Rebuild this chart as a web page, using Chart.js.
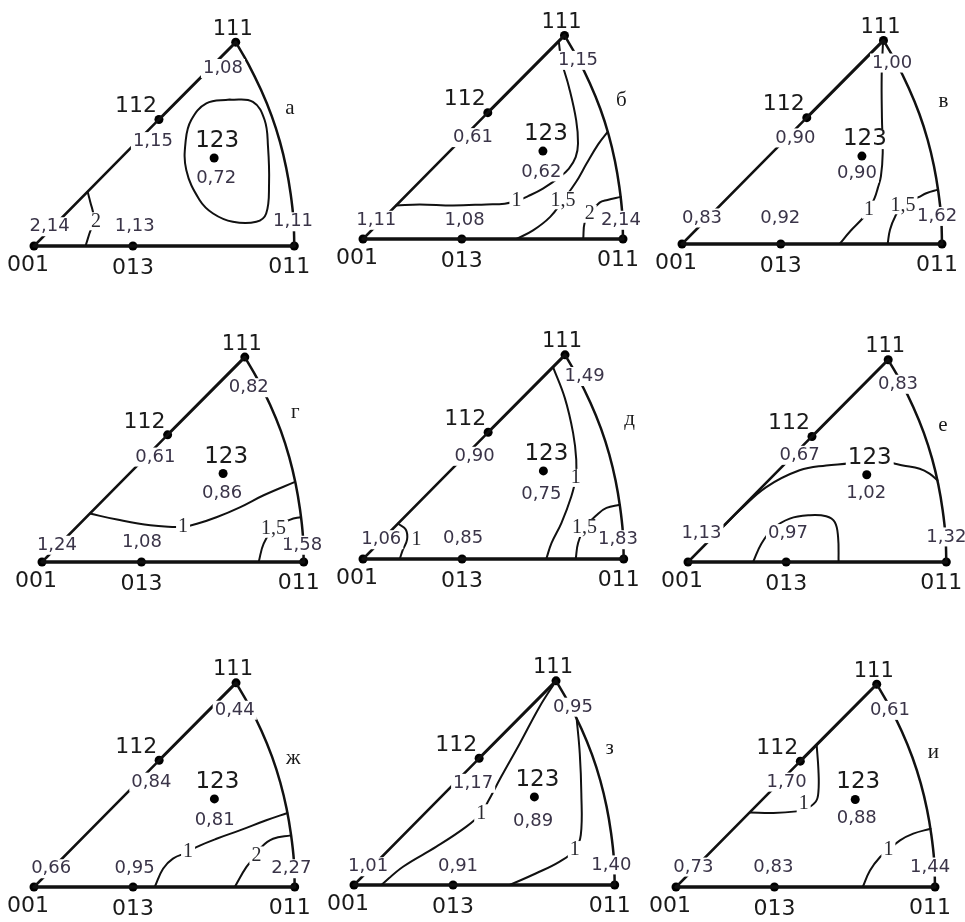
<!DOCTYPE html>
<html>
<head>
<meta charset="utf-8">
<script src="https://cdn.jsdelivr.net/npm/chart.js@4.4.1/dist/chart.umd.min.js"></script>
<style>
html, body { margin: 0; padding: 0; background: #fff; overflow: hidden; width: 965px; height: 922px; }
canvas { position: absolute; }
</style>
</head>
<body>
<script>
// poles of the standard triangle, order: 111, 112, 123, 001, 013, 011
const poleNames = ['111', '112', '123', '001', '013', '011'];
const poleX = [77.5, 48, 69.2, 0, 38, 100];
const poleY = [78.3, 48.6, 33.8, 0, 0, 0];

// 111 -> 011 arc
const arcX = [77.5, 82.3, 87.2, 91.3, 94.5, 96.9, 98.6, 99.7, 100];
const arcY = [78.3, 70, 60, 50, 40, 30, 20, 10, 0];

const letters = ['а', 'б', 'в', 'г', 'д', 'е', 'ж', 'з', 'и'];

// values at the poles (same order as poleNames)
const valsA = [1.08, 1.15, 0.72, 2.14, 1.13, 1.11];
const valsB = [1.15, 0.61, 0.62, 1.11, 1.08, 2.14];
const valsV = [1.00, 0.90, 0.90, 0.83, 0.92, 1.62];
const valsG = [0.82, 0.61, 0.86, 1.24, 1.08, 1.58];
const valsD = [1.49, 0.90, 0.75, 1.06, 0.85, 1.83];
const valsE = [0.83, 0.67, 1.02, 1.13, 0.97, 1.32];
const valsZh = [0.44, 0.84, 0.81, 0.66, 0.95, 2.27];
const valsZ = [0.95, 1.17, 0.89, 1.01, 0.91, 1.40];
const valsI = [0.61, 1.70, 0.88, 0.73, 0.83, 1.44];

// contour lines
const linesA = [
  [[75.2,56.3],[84.1,55.4],[88.6,48.4],[89.9,38.2],[90.3,24.1],[89.2,12.5],[85.4,9.3],[76.4,9.3],[68.8,12.5],[63.6,17.7],[58.5,29.2],[58.3,40.7],[60.4,48.4],[66.2,54.8],[75.2,56.3]],
  [[20.6,20.8],[21.6,17],[23,10.5],[21.2,4.5],[19.8,0]]
];
const linesB = [
  [[12.8,12.9],[21.8,13.3],[34.6,12.9],[47.4,13.3],[54.5,13.6],[59,14.6],[63.5,16.5],[69.2,19.4],[75.6,23.8],[79.2,27.1],[81.8,31.5],[82.7,36.7],[82,45.6],[79.2,58.5],[76.3,68.7],[75.3,76]],
  [[94.1,41.2],[90.5,36.5],[86,29],[82,22],[77,15],[72,8.5],[65.4,3.3],[59,0]],
  [[99.1,16.2],[94,15],[91,14],[87.5,10],[85.3,6.5],[84.7,0]]
];
const linesV = [
  [[77.3,77.6],[76.8,64.5],[76.9,48.5],[77.2,35],[76.5,26],[75.3,21.5],[74.1,17.7],[71.9,13.2],[69.6,10],[64.7,4.9],[60.6,0]],
  [[98.5,20.9],[94.2,19.6],[91,18],[85,15],[82,10.6],[80,5.5],[79.1,0]]
];
const linesG = [
  [[18.3,18.5],[28.7,16.2],[41.4,14],[51,13.4],[53.9,13.4],[59.2,14.6],[66.9,17.2],[75.8,21],[84.7,25.5],[96.7,30.6]],
  [[99,17.2],[94.9,16.2],[88.5,12.7],[84.7,7],[82.8,0]]
];
const linesD = [
  [[72.9,73.6],[77.4,61.8],[80.6,48.3],[81.8,38.1],[81.6,31.1],[79.9,24],[76.1,13.8],[72.3,6.1],[70.3,0]],
  [[13.4,13.6],[16.4,11.3],[16.9,7.4],[15.3,3.6],[14.1,0]],
  [[98.5,20.8],[93.4,19.6],[90.2,17.4],[85,11.9],[82.5,6.1],[81.6,0]]
];
const linesE = [
  [[13.5,13.6],[20,20],[30.3,29],[43.2,35.5],[53.5,37.4],[62.6,38.2],[71,40],[79.5,38.2],[83.2,37.4],[89.7,36.1],[93.5,34.2],[96.6,31.6]],
  [[25.2,0],[28.4,7.1],[32.9,12.9],[39.4,16.8],[47.1,18.1],[53.5,17.7],[56.8,15.5],[58.1,9.7],[58.3,0]]
];
const linesZh = [
  [[97.2,28.4],[89.1,25.6],[78.9,21.7],[70,18.5],[62.3,15.3],[59.1,13.4],[53.3,10.9],[49.5,7],[46.3,0]],
  [[98.6,19.8],[91.7,18.5],[87.2,15.3],[85.3,12.1],[81.5,7.7],[77,0]]
];
const linesZ = [
  [[77.5,78.3],[71.2,68.4],[63.6,54.3],[56.5,41.6],[51.4,32],[48.8,27.5],[43.1,22.4],[31.6,14.7],[18.8,7],[10.5,0]],
  [[85.4,63.9],[86.6,50.5],[87.2,35.2],[87,19.2],[84.7,13.4],[78.9,9],[69.9,4.5],[59.7,0]]
];
const linesI = [
  [[54.3,54.9],[55,45],[55,37],[54,33],[50,30],[46.6,29.2],[37.6,28.6],[28.6,28.8]],
  [[98.3,22.5],[91.6,20.6],[86.5,18],[82,14.2],[78.8,11.6],[74.9,6.4],[72.1,0]]
];

// contour level labels
const isoA = ['2'];
const isoB = ['1', '1,5', '2'];
const isoV = ['1', '1,5'];
const isoG = ['1', '1,5'];
const isoD = ['1', '1', '1,5'];
const isoE = [];
const isoZh = ['1', '2'];
const isoZ = ['1', '1'];
const isoI = ['1', '1'];

const panelVals = [valsA, valsB, valsV, valsG, valsD, valsE, valsZh, valsZ, valsI];
const panelLines = [linesA, linesB, linesV, linesG, linesD, linesE, linesZh, linesZ, linesI];
const panelIso = [isoA, isoB, isoV, isoG, isoD, isoE, isoZh, isoZ, isoI];

// where each panel sits on the page and where its texts go
const layout = [
  { org: [34.3, 246.0], s: 2.603, valueAt: [[72.6,68.2],[45.7,40.1],[70,26],[6,7.4],[38.7,7.4],[99.5,9.3]], isoAt: [[23.8,9.5]], letterAt: [98.3,53] },
  { org: [363.3, 238.7], s: 2.600, valueAt: [[82.7,68.7],[42.3,39],[68.6,25.8],[5.1,7.2],[39.1,7.2],[99.2,7.2]], isoAt: [[59,14.6],[76.9,14.9],[87.2,9.7]], letterAt: [99.4,53.3] },
  { org: [681.7, 244.3], s: 2.600, valueAt: [[80.8,69.6],[43.6,40.8],[67.3,27.3],[7.7,10],[37.8,10],[98.1,10.6]], isoAt: [[71.9,13.2],[85,14.9]], letterAt: [100.6,54.9] },
  { org: [41.7, 561.7], s: 2.617, valueAt: [[79,66.6],[43.3,40.1],[68.8,26.1],[5.7,6.4],[38.2,7.6],[99.4,6.4]], isoAt: [[53.9,13.4],[88.5,12.7]], letterAt: [96.8,57.3] },
  { org: [363.3, 559.3], s: 2.607, valueAt: [[85,70],[42.8,39.4],[68.4,24.7],[7,7.4],[38.4,8.1],[97.8,7.4]], isoAt: [[81.6,31.1],[20.5,7.4],[85,11.9]], letterAt: [102.3,53.5] },
  { org: [688.3, 561.7], s: 2.583, valueAt: [[81.3,68.8],[43.2,41.3],[69,26.5],[5.2,11],[38.7,11],[100,9.7]], isoAt: [], letterAt: [98.7,52.9] },
  { org: [34.3, 886.7], s: 2.607, valueAt: [[77,67.8],[45,40.2],[69.3,25.6],[6.6,7],[38.6,7],[98.7,7]], isoAt: [[59.1,13.4],[85.3,12.1]], letterAt: [99.4,49.2] },
  { org: [354.3, 885.0], s: 2.607, valueAt: [[84,68.2],[45.7,39],[68.7,24.3],[5.4,7],[39.9,7],[98.7,7.7]], isoAt: [[48.8,27.5],[84.7,13.4]], letterAt: [98.1,52.4] },
  { org: [676.0, 886.7], s: 2.590, valueAt: [[82.6,68.2],[42.7,40.5],[69.8,26.4],[6.7,7.7],[37.6,7.7],[98.1,7.7]], isoAt: [[49.3,32],[82,14.2]], letterAt: [99.4,52.1] }
];

// pixel offsets of the pole names from their dots, and their sizes
const nameOffset = [[-3,-13],[-23,-13],[3,-17],[-6,19],[0,22],[-5,21]];
const nameFont = ['21px', '22px', '23px', '22px', '22px', '22px'];

const CW = 320, CH = 300, LEFT = 40, BOTTOM = 50;

function fmt(v) {
  return v.toFixed(2).replace('.', ',');
}

function pts(xs, ys) {
  return xs.map((x, i) => ({ x: x, y: ys[i] }));
}

function textPlugin(texts) {
  return {
    id: 'ipfText',
    afterDatasetsDraw(chart) {
      const ctx = chart.ctx, sx = chart.scales.x, sy = chart.scales.y;
      ctx.save();
      ctx.textAlign = 'center';
      ctx.textBaseline = 'middle';
      texts.forEach(t => {
        const px = sx.getPixelForValue(t.x) + (t.dx || 0);
        const py = sy.getPixelForValue(t.y) + (t.dy || 0);
        ctx.font = t.font;
        if (t.box) {
          const w = ctx.measureText(t.text).width;
          ctx.fillStyle = '#fff';
          ctx.fillRect(px - w / 2 - 2, py - t.box / 2, w + 4, t.box);
        }
        ctx.fillStyle = t.color;
        ctx.fillText(t.text, px, py);
      });
      ctx.restore();
    }
  };
}

function lineSet(data, width, tension) {
  return {
    data: data, showLine: true, borderColor: '#111', borderWidth: width,
    pointRadius: 0, tension: tension, fill: false, clip: false, borderCapStyle: 'round'
  };
}

layout.forEach((L, k) => {
  const cv = document.createElement('canvas');
  cv.width = CW; cv.height = CH;
  cv.style.left = (L.org[0] - LEFT) + 'px';
  cv.style.top = (L.org[1] - (CH - BOTTOM)) + 'px';
  document.body.appendChild(cv);

  const vals = panelVals[k];
  const datasets = [
    lineSet([{x: poleX[3], y: poleY[3]}, {x: poleX[1], y: poleY[1]}], 2.5, 0),
    lineSet([{x: poleX[1], y: poleY[1]}, {x: poleX[0], y: poleY[0]}], 3, 0),
    lineSet([{x: poleX[3], y: poleY[3]}, {x: poleX[5], y: poleY[5]}], 3.5, 0),
    lineSet(pts(arcX, arcY), 2.5, 0.4)
  ];
  panelLines[k].forEach(line => {
    datasets.push(lineSet(line.map(p => ({x: p[0], y: p[1]})), 2, 0.4));
  });

  const texts = [];
  vals.forEach((v, i) => {
    texts.push({ text: fmt(v), x: L.valueAt[i][0], y: L.valueAt[i][1],
      font: '18px "DejaVu Sans"', color: '#3a3448', box: 19 });
  });
  panelIso[k].forEach((t, i) => {
    texts.push({ text: t, x: L.isoAt[i][0], y: L.isoAt[i][1],
      font: '20px "Liberation Serif"', color: '#2a2a30', box: 18 });
  });
  poleNames.forEach((n, i) => {
    texts.push({ text: n, x: poleX[i], y: poleY[i], dx: nameOffset[i][0], dy: nameOffset[i][1],
      font: nameFont[i] + ' "DejaVu Sans"', color: '#1a1a1a', box: i === 2 ? 20 : 0 });
  });
  texts.push({ text: letters[k], x: L.letterAt[0], y: L.letterAt[1],
    font: '21px "Liberation Serif"', color: '#1a1a1a', box: 0 });

  // pole dots on top of everything
  const dots = {
    data: pts(poleX, poleY), showLine: false, pointRadius: 4.5,
    pointBackgroundColor: '#000', pointBorderWidth: 0, clip: false
  };
  datasets.push(dots);

  new Chart(cv, {
    type: 'scatter',
    data: { datasets: datasets },
    options: {
      responsive: false,
      animation: false,
      events: [],
      layout: { padding: 0, autoPadding: false },
      plugins: { legend: { display: false }, tooltip: { enabled: false } },
      scales: {
        x: { type: 'linear', display: false, min: -LEFT / L.s, max: (CW - LEFT) / L.s },
        y: { type: 'linear', display: false, min: -BOTTOM / L.s, max: (CH - BOTTOM) / L.s }
      }
    },
    plugins: [textPlugin(texts)]
  });
});
</script>
</body>
</html>
